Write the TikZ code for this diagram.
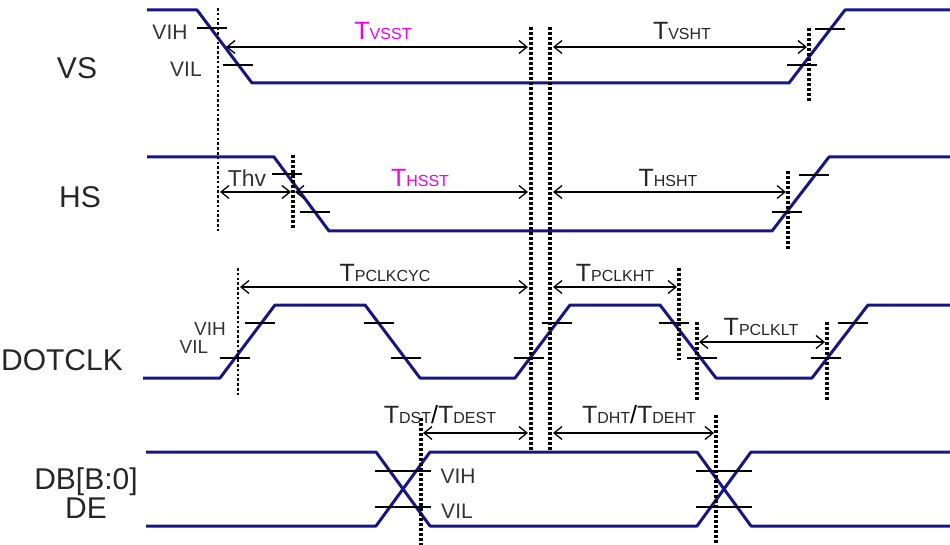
\documentclass[tikz,border=0pt]{standalone}
\usepackage{fontspec}
\setmainfont{Liberation Sans}
\usetikzlibrary{arrows.meta}

\definecolor{sigblue}{RGB}{22,22,135}
\definecolor{tmag}{RGB}{235,0,235}

% timing parameter name: big T, small subscript on the same baseline
\newcommand{\tname}[2][black!85]{\textcolor{#1}{{\fontsize{25}{25}\selectfont T}{\fontsize{16}{16}\selectfont #2}}}

\tikzset{
  sig/.style={sigblue, line width=3pt, line join=round},
  lvltick/.style={line width=1.8pt},
  guide/.style={line width=3.4pt, dash pattern=on 3pt off 2pt},
  thinguide/.style={line width=2.6pt, dash pattern=on 2.6pt off 2.2pt},
  dim/.style={<->, line width=1.3pt},
  tlab/.style={anchor=base, inner sep=0pt},
  lvl/.style={anchor=base, inner sep=0pt, text=black!80, font=\fontsize{21}{21}\selectfont},
  sname/.style={text=black!85, align=center, font=\fontsize{30}{29}\selectfont}
}

\begin{document}
\begin{tikzpicture}[x=1pt, y=-1pt, >={Straight Barb[length=8pt,width=13pt]}]
	\useasboundingbox (0,0) rectangle (950,545);
	%\draw[help lines] (0,0) grid[step=50] (950,545);
	% signal names
	\node[sname] (vs) at (77,68) {VS};
	\node[sname] (hs) at (80,197) {HS};
	\node[sname] (clk) at (62,360) {DOTCLK};
	\node[sname] (db) at (86,493) {DB[B:0]\\DE};
	% waveforms
	\draw[sig] (147,10) -- (197,10) -- (252,83) -- (789,83) -- (845,10) -- (950,10);
	\draw[sig] (147,157) -- (274,157) -- (329,231) -- (772,231) -- (829,157) -- (950,157);
	\draw[sig] (143,378) -- (220,378) -- (275,305) -- (365,305) -- (420,378) -- (515,378) -- (570,305)
		-- (660,305) -- (716,378) -- (812,378) -- (868,305) -- (950,305);
	\draw[sig] (146,452) -- (376,452) -- (430,526) -- (697,526) -- (751,452) -- (950,452);
	\draw[sig] (146,526) -- (376,526) -- (430,452) -- (697,452) -- (751,526) -- (950,526);
	% VIH / VIL level ticks
	\foreach \x/\y in {212/28, 238/65, 830/29, 802/65, 287/174, 315/212, 814/175, 787/212,
		260/323, 235/358, 379/323, 406/358, 557/323, 529/358, 674/323, 702/358, 853/323, 826/358}
		\draw[lvltick] (\x-15,\y) -- (\x+15,\y);
	\foreach \x in {403,724}
		\draw[lvltick] (\x-28,471) -- (\x+28,471) (\x-28,507) -- (\x+28,507);
	% level names
	\node[lvl] (vih1) at (170,40) {VIH};
	\node[lvl] (vil1) at (186,77) {VIL};
	\node[lvl, font=\fontsize{19}{19}\selectfont] (vih2) at (210,335) {VIH};
	\node[lvl, font=\fontsize{19}{19}\selectfont] (vil2) at (194,353) {VIL};
	\node[lvl] (vih3) at (458,483) {VIH};
	\node[lvl] (vil3) at (457,518) {VIL};
	% dotted reference lines
	\draw[thinguide] (218,8) -- (218,232);
	\draw[thinguide] (238,268) -- (238,397);
	\draw[guide] (531,27) -- (531,452);
	\draw[guide] (550,27) -- (550,452);
	\draw[guide] (809,28) -- (809,102);
	\draw[guide] (293,155) -- (293,230);
	\draw[guide] (788,171) -- (788,250);
	\draw[guide] (679,268) -- (679,360);
	\draw[guide] (697,322) -- (697,400);
	\draw[guide] (827,322) -- (827,400);
	\draw[guide] (421,418) -- (421,545);
	\draw[guide] (716,415) -- (716,545);
	% end points of the timing arrows
	\foreach \n/\xa/\xb/\y in {vsst/226/528/47, vsht/553/807/47, thv/220/291/192, hsst/295/528/192,
		hsht/553/786/192, cyc/240/528/287, kht/553/677/287, klt/699/825/342, dst/423/528/433, dht/553/714/433}
	{
		\coordinate (\n-l) at (\xa,\y);
		\coordinate (\n-r) at (\xb,\y);
	}
	\draw[dim] (vsst-l) -- (vsst-r);
	\draw[dim] (vsht-l) -- (vsht-r);
	\draw[dim] (thv-l) -- (thv-r);
	\draw[dim] (hsst-l) -- (hsst-r);
	\draw[dim] (hsht-l) -- (hsht-r);
	\draw[dim] (cyc-l) -- (cyc-r);
	\draw[dim] (kht-l) -- (kht-r);
	\draw[dim] (klt-l) -- (klt-r);
	\draw[dim] (dst-l) -- (dst-r);
	\draw[dim] (dht-l) -- (dht-r);
	% timing names
	\node[tlab] (lvsst) at (383,40) {\tname[tmag]{VSST}};
	\node[tlab] (lvsht) at (682,40) {\tname{VSHT}};
	\node[tlab, text=black!80, font=\fontsize{23}{23}\selectfont] (lthv) at (247,187) {Thv};
	\node[tlab] (lhsst) at (420,187) {\tname[tmag]{HSST}};
	\node[tlab] (lhsht) at (668,187) {\tname{HSHT}};
	\node[tlab] (lcyc) at (385,282) {\tname{PCLKCYC}};
	\node[tlab] (lkht) at (615,282) {\tname{PCLKHT}};
	\node[tlab] (lklt) at (761,335) {\tname{PCLKLT}};
	\node[tlab] (ldst) at (440,423) {\tname{DST}{\fontsize{25}{25}\selectfont/}\tname{DEST}};
	\node[tlab] (ldht) at (639,423) {\tname{DHT}{\fontsize{25}{25}\selectfont/}\tname{DEHT}};
\end{tikzpicture}
\end{document}
